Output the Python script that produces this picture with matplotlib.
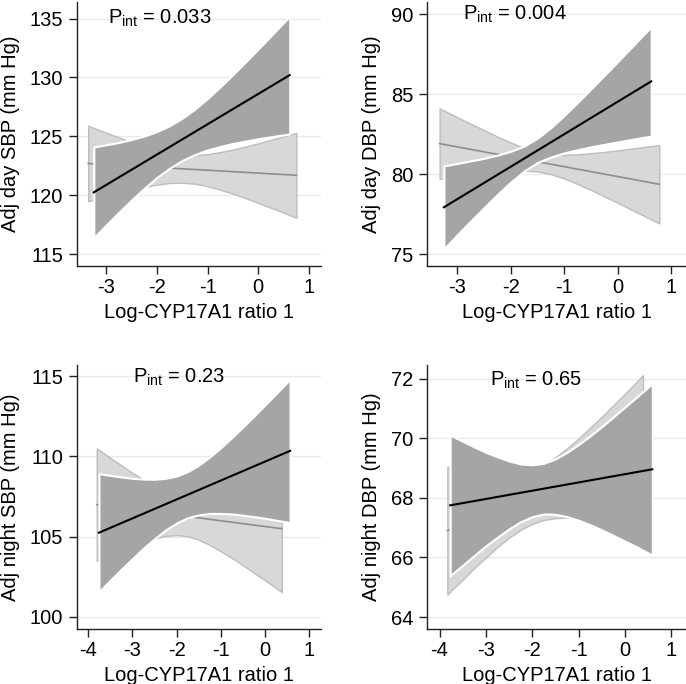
import matplotlib
matplotlib.use("Agg")
import matplotlib.pyplot as plt

plt.rcParams['font.family'] = ['Liberation Sans', 'DejaVu Sans']
plt.rcParams['mathtext.fontset'] = 'custom'
plt.rcParams['mathtext.rm'] = 'Liberation Sans'
plt.rcParams['mathtext.it'] = 'Liberation Sans:italic'

# ---------------- data ----------------
xlabel_text = "Log-CYP17A1 ratio 1"

# Panel 1: Adj day SBP
p1_ylabel = "Adj day SBP (mm Hg)"
p1_pint = "0.033"
p1_yticks = [115, 120, 125, 130, 135]
p1_xticks = [-3, -2, -1, 0, 1]
p1_dark_x = [-3.24, -3.0, -2.75, -2.5, -2.25, -2.0, -1.75, -1.5, -1.25, -1.0, -0.75, -0.5, -0.25, 0.0, 0.25, 0.62]
p1_dark_up = [124.10, 124.28, 124.48, 124.73, 125.02, 125.40, 125.89, 126.53, 127.31, 128.21, 129.20, 130.24, 131.32, 132.42, 133.53, 135.20]
p1_dark_lo = [116.40, 117.46, 118.54, 119.59, 120.58, 121.50, 122.29, 122.95, 123.45, 123.85, 124.14, 124.40, 124.60, 124.80, 124.97, 125.20]
p1_dark_line_x = [-3.24, 0.62]
p1_dark_line_y = [120.25, 130.2]
p1_light_x = [-3.35, -3.0, -2.75, -2.5, -2.25, -2.0, -1.75, -1.5, -1.25, -1.0, -0.75, -0.5, -0.25, 0.0, 0.25, 0.5, 0.75]
p1_light_up = [125.90, 125.31, 124.91, 124.52, 124.16, 123.84, 123.58, 123.43, 123.40, 123.49, 123.66, 123.88, 124.14, 124.41, 124.70, 124.99, 125.30]
p1_light_lo = [119.50, 119.91, 120.19, 120.46, 120.70, 120.90, 121.04, 121.07, 120.98, 120.77, 120.48, 120.14, 119.76, 119.35, 118.94, 118.53, 118.10]
p1_light_line_x = [-3.35, 0.75]
p1_light_line_y = [122.7, 121.7]

# Panel 2: Adj day DBP
p2_ylabel = "Adj day DBP (mm Hg)"
p2_pint = "0.004"
p2_yticks = [75, 80, 85, 90]
p2_xticks = [-3, -2, -1, 0, 1]
p2_dark_x = [-3.25, -3.0, -2.75, -2.5, -2.25, -2.0, -1.75, -1.5, -1.25, -1.0, -0.75, -0.5, -0.25, 0.0, 0.25, 0.625]
p2_dark_up = [80.51, 80.66, 80.82, 80.98, 81.18, 81.42, 81.75, 82.24, 82.90, 83.66, 84.48, 85.32, 86.17, 87.03, 87.90, 89.21]
p2_dark_lo = [75.33, 76.20, 77.06, 77.90, 78.72, 79.50, 80.19, 80.72, 81.06, 81.32, 81.52, 81.70, 81.85, 82.01, 82.16, 82.37]
p2_dark_line_x = [-3.25, 0.625]
p2_dark_line_y = [77.92, 85.79]
p2_light_x = [-3.33, -3.0, -2.75, -2.5, -2.25, -2.0, -1.75, -1.5, -1.25, -1.0, -0.75, -0.5, -0.25, 0.0, 0.25, 0.5, 0.775]
p2_light_up = [84.10, 83.55, 83.14, 82.74, 82.34, 81.97, 81.63, 81.38, 81.23, 81.20, 81.23, 81.30, 81.38, 81.48, 81.58, 81.69, 81.81]
p2_light_lo = [79.70, 79.85, 79.94, 80.04, 80.12, 80.19, 80.21, 80.16, 79.99, 79.72, 79.37, 79.00, 78.60, 78.20, 77.78, 77.37, 76.91]
p2_light_line_x = [-3.33, 0.775]
p2_light_line_y = [81.9, 79.36]

# Panel 3: Adj night SBP
p3_ylabel = "Adj night SBP (mm Hg)"
p3_pint = "0.23"
p3_yticks = [100, 105, 110, 115]
p3_xticks = [-4, -3, -2, -1, 0, 1]
p3_dark_x = [-3.76, -3.5, -3.25, -3.0, -2.75, -2.5, -2.25, -2.0, -1.75, -1.5, -1.25, -1.0, -0.75, -0.5, -0.25, 0.0, 0.25, 0.57]
p3_dark_up = [108.93, 108.82, 108.72, 108.64, 108.59, 108.58, 108.64, 108.78, 109.06, 109.46, 109.97, 110.55, 111.18, 111.84, 112.51, 113.21, 113.91, 114.82]
p3_dark_lo = [101.57, 102.30, 102.98, 103.64, 104.29, 104.88, 105.42, 105.86, 106.18, 106.36, 106.45, 106.45, 106.42, 106.34, 106.25, 106.15, 106.03, 105.88]
p3_dark_line_x = [-3.76, 0.57]
p3_dark_line_y = [105.25, 110.35]
p3_light_x = [-3.81, -3.5, -3.25, -3.0, -2.75, -2.5, -2.25, -2.0, -1.75, -1.5, -1.25, -1.0, -0.75, -0.5, -0.25, 0.0, 0.38]
p3_light_up = [110.50, 109.91, 109.44, 108.98, 108.55, 108.16, 107.83, 107.60, 107.49, 107.53, 107.67, 107.88, 108.12, 108.39, 108.68, 108.99, 109.45]
p3_light_lo = [103.50, 103.87, 104.16, 104.44, 104.69, 104.90, 105.05, 105.10, 105.03, 104.81, 104.49, 104.10, 103.68, 103.23, 102.76, 102.29, 101.55]
p3_light_line_x = [-3.81, 0.38]
p3_light_line_y = [107.0, 105.5]

# Panel 4: Adj night DBP
p4_ylabel = "Adj night DBP (mm Hg)"
p4_pint = "0.65"
p4_yticks = [64, 66, 68, 70, 72]
p4_xticks = [-4, -3, -2, -1, 0, 1]
p4_dark_x = [-3.77, -3.5, -3.25, -3.0, -2.75, -2.5, -2.25, -2.0, -1.75, -1.5, -1.25, -1.0, -0.75, -0.5, -0.25, 0.0, 0.25, 0.59]
p4_dark_up = [70.11, 69.90, 69.71, 69.53, 69.38, 69.24, 69.14, 69.11, 69.16, 69.31, 69.53, 69.79, 70.08, 70.39, 70.72, 71.05, 71.38, 71.84]
p4_dark_lo = [65.39, 65.74, 66.07, 66.39, 66.68, 66.96, 67.20, 67.37, 67.46, 67.45, 67.37, 67.25, 67.10, 66.93, 66.74, 66.55, 66.36, 66.08]
p4_dark_line_x = [-3.77, 0.59]
p4_dark_line_y = [67.75, 68.96]
p4_light_x = [-3.83, -3.5, -3.25, -3.0, -2.75, -2.5, -2.25, -2.0, -1.75, -1.5, -1.25, -1.0, -0.75, -0.5, -0.25, 0.0, 0.39]
p4_light_up = [69.04, 68.94, 68.87, 68.82, 68.79, 68.78, 68.83, 68.93, 69.12, 69.36, 69.66, 69.99, 70.36, 70.72, 71.11, 71.49, 72.12]
p4_light_lo = [64.76, 65.26, 65.65, 66.00, 66.35, 66.66, 66.93, 67.13, 67.26, 67.32, 67.34, 67.31, 67.26, 67.20, 67.13, 67.05, 66.92]
p4_light_line_x = [-3.83, 0.39]
p4_light_line_y = [66.9, 69.52]

# ---------------- layout / style ----------------
W, H = 686, 684
fig = plt.figure(figsize=(W / 100, H / 100), dpi=100)

def rect(l, r, t, b):
    return [l / W, 1 - b / H, (r - l) / W, (b - t) / H]

DARK = '#a4a5a7'
LIGHT = '#d7d8da'
LIGHT_EDGE = '#bdbdbf'
LIGHT_LINE = '#8e8e90'
GRID = '#e9e9e9'
FS = 14.5

panels = [
    dict(rect=rect(77, 321, 2, 266), xlim=(-3.571, 1.236), ylim=(114.0, 136.4),
         ylabel=p1_ylabel, pint=p1_pint, yticks=p1_yticks, xticks=p1_xticks,
         dx=p1_dark_x, du=p1_dark_up, dl=p1_dark_lo, dlx=p1_dark_line_x, dly=p1_dark_line_y,
         lx=p1_light_x, lu=p1_light_up, ll=p1_light_lo, llx=p1_light_line_x, lly=p1_light_line_y,
         tpos=(0.127, 0.916)),
    dict(rect=rect(427, 686, 2, 266), xlim=(-3.566, 1.275), ylim=(74.25, 90.75),
         ylabel=p2_ylabel, pint=p2_pint, yticks=p2_yticks, xticks=p2_xticks,
         dx=p2_dark_x, du=p2_dark_up, dl=p2_dark_lo, dlx=p2_dark_line_x, dly=p2_dark_line_y,
         lx=p2_light_x, lu=p2_light_up, ll=p2_light_lo, llx=p2_light_line_x, lly=p2_light_line_y,
         tpos=(0.139, 0.932)),
    dict(rect=rect(77, 321, 365, 629), xlim=(-4.257, 1.27), ylim=(99.25, 115.7),
         ylabel=p3_ylabel, pint=p3_pint, yticks=p3_yticks, xticks=p3_xticks,
         dx=p3_dark_x, du=p3_dark_up, dl=p3_dark_lo, dlx=p3_dark_line_x, dly=p3_dark_line_y,
         lx=p3_light_x, lu=p3_light_up, ll=p3_light_lo, llx=p3_light_line_x, lly=p3_light_line_y,
         tpos=(0.230, 0.932)),
    dict(rect=rect(427, 686, 365, 629), xlim=(-4.27, 1.317), ylim=(63.6, 72.46),
         ylabel=p4_ylabel, pint=p4_pint, yticks=p4_yticks, xticks=p4_xticks,
         dx=p4_dark_x, du=p4_dark_up, dl=p4_dark_lo, dlx=p4_dark_line_x, dly=p4_dark_line_y,
         lx=p4_light_x, lu=p4_light_up, ll=p4_light_lo, llx=p4_light_line_x, lly=p4_light_line_y,
         tpos=(0.243, 0.920)),
]

for p in panels:
    ax = fig.add_axes(p['rect'])
    ax.set_xlim(*p['xlim'])
    ax.set_ylim(*p['ylim'])
    for yt in p['yticks']:
        ax.axhline(yt, color=GRID, lw=1.0, zorder=0)
    # light band (reference group)
    ax.fill_between(p['lx'], p['lu'], p['ll'], facecolor=LIGHT, edgecolor=LIGHT_EDGE,
                    linewidth=1.0, zorder=1)
    ax.plot(p['llx'], p['lly'], color=LIGHT_LINE, lw=1.2, zorder=2)
    # dark band
    ax.fill_between(p['dx'], p['du'], p['dl'], facecolor=DARK, edgecolor='white',
                    linewidth=1.5, zorder=3)
    ax.plot(p['dlx'], p['dly'], color='black', lw=1.5, zorder=4)

    ax.set_xticks(p['xticks'])
    ax.set_yticks(p['yticks'])
    ax.set_xticklabels([str(v) for v in p['xticks']])
    ax.set_yticklabels([str(v) for v in p['yticks']])
    for s in ['top', 'right']:
        ax.spines[s].set_visible(False)
    for s in ['left', 'bottom']:
        ax.spines[s].set_color('#222222')
        ax.spines[s].set_linewidth(1.0)
    ax.tick_params(axis='both', direction='out', length=6, width=1.0,
                   color='#222222', labelsize=FS)
    ax.tick_params(axis='x', pad=3)
    ax.tick_params(axis='y', pad=4)
    ax.set_xlabel(xlabel_text, fontsize=FS, labelpad=4)
    ax.set_ylabel(p['ylabel'], fontsize=FS, labelpad=7)
    ax.text(p['tpos'][0], p['tpos'][1], r'P$_{\mathrm{int}}$ = ' + p['pint'],
            transform=ax.transAxes, ha='left', va='baseline', fontsize=FS, zorder=6)
    ax.set_facecolor('white')

fig.savefig('out.png', dpi=100, facecolor='white')
